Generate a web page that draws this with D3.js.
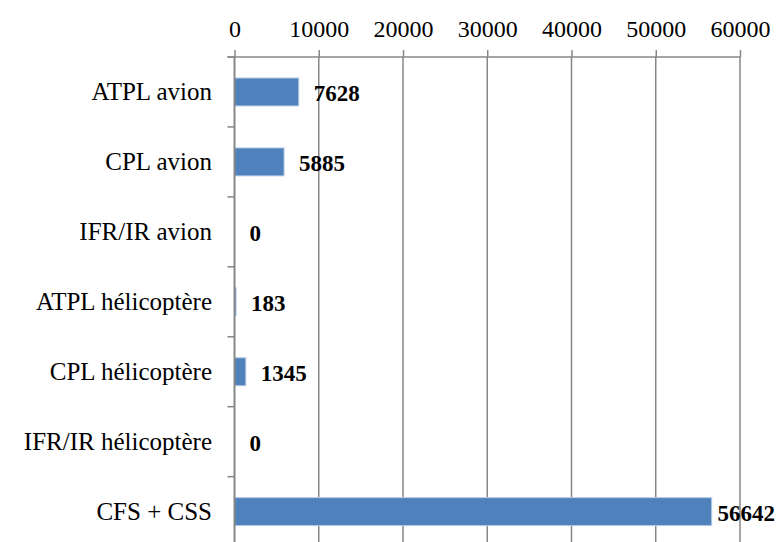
<!DOCTYPE html>
<html>
<head>
<meta charset="utf-8">
<script src="https://cdn.jsdelivr.net/npm/d3@7"></script>
<style>
  html, body { margin: 0; padding: 0; background: #fff; }
  svg { display: block; }
  text { font-family: "Liberation Serif", serif; fill: #000; }
</style>
</head>
<body>
<svg id="chart" width="779" height="542"></svg>
<script>
// Licences délivrées par catégorie
const categories = [
  "ATPL avion",
  "CPL avion",
  "IFR/IR avion",
  "ATPL hélicoptère",
  "CPL hélicoptère",
  "IFR/IR hélicoptère",
  "CFS + CSS"
];
const values = [7628, 5885, 0, 183, 1345, 0, 56642];
const xTicks = [0, 10000, 20000, 30000, 40000, 50000, 60000];

const W = 779, H = 542;
const plot = { left: 234.5, right: 740, top: 57, bottom: 546.6 };
const gridColor = "#878787";
const barColor = "#4f81bd";

const svg = d3.select("#chart");

const x = d3.scaleLinear().domain([0, 60000]).range([plot.left, plot.right]);
const y = d3.scaleBand().domain(categories).range([plot.top, plot.bottom])
  .paddingInner(0.6).paddingOuter(0.3);

// vertical gridlines
svg.append("g")
  .selectAll("line")
  .data(xTicks.slice(1))
  .join("line")
  .attr("x1", d => x(d)).attr("x2", d => x(d))
  .attr("y1", plot.top).attr("y2", H)
  .attr("stroke", gridColor).attr("stroke-width", 1.5);

// bars
svg.append("g")
  .selectAll("rect")
  .data(values)
  .join("rect")
  .attr("x", x(0))
  .attr("y", (d, i) => y(categories[i]))
  .attr("width", d => x(d) - x(0))
  .attr("height", y.bandwidth())
  .attr("fill", barColor)
  .attr("stroke", "#b9cde5")
  .attr("stroke-width", d => d > 0 ? 1 : 0);

// top value axis
const xAxis = svg.append("g")
  .attr("transform", `translate(0,${plot.top})`)
  .call(d3.axisTop(x).tickValues(xTicks).tickFormat(d => String(d))
    .tickSize(7).tickSizeOuter(0).tickPadding(13));
xAxis.attr("font-family", null).attr("font-size", null);
xAxis.select(".domain").attr("stroke", gridColor).attr("stroke-width", 1.5)
  .attr("d", `M${plot.left - 7},0H${plot.right}`);
xAxis.selectAll(".tick line").attr("stroke", gridColor).attr("stroke-width", 1.5);
xAxis.selectAll(".tick text").attr("font-size", 24).attr("fill", "#000");

// left category axis: line plus ticks at category boundaries
const step = y.step();
const gap = (step - y.bandwidth()) / 2;
const bounds = categories.map(c => y(c) - gap)
  .concat([y(categories[categories.length - 1]) + y.bandwidth() + gap]);
const yAxis = svg.append("g");
yAxis.append("line")
  .attr("x1", x(0)).attr("x2", x(0))
  .attr("y1", plot.top).attr("y2", H)
  .attr("stroke", gridColor).attr("stroke-width", 2);
yAxis.selectAll("line.tk")
  .data(bounds)
  .join("line")
  .attr("class", "tk")
  .attr("x1", x(0) - 7).attr("x2", x(0))
  .attr("y1", d => d).attr("y2", d => d)
  .attr("stroke", gridColor).attr("stroke-width", 1.5);

// category labels
svg.append("g")
  .selectAll("text")
  .data(categories)
  .join("text")
  .attr("x", 212)
  .attr("y", d => y(d) + y.bandwidth() / 2 + 8)
  .attr("text-anchor", "end")
  .attr("font-size", 25)
  .text(d => d);

// value labels
svg.append("g")
  .selectAll("text")
  .data(values)
  .join("text")
  .attr("y", (d, i) => y(categories[i]) + y.bandwidth() / 2 + 9.5)
  .attr("font-size", 23)
  .attr("font-weight", "bold")
  .text(d => d)
  .each(function (d) {
    const w = this.getComputedTextLength();
    const px = Math.min(x(d) + 15, W - 4 - w);
    d3.select(this).attr("x", px);
  });
</script>
</body>
</html>
